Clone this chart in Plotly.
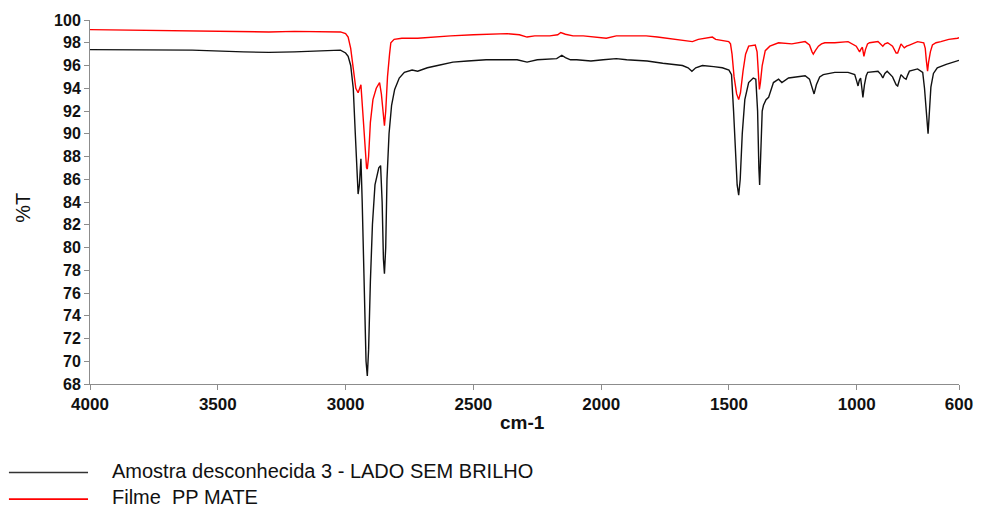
import plotly.graph_objects as go

# FTIR transmittance spectra (%T vs wavenumber, cm-1)
sample_wn = [4000, 3800, 3600, 3400, 3300, 3200, 3100, 3050, 3020, 3000, 2990, 2980, 2970, 2962, 2955,
             2951, 2946, 2940, 2935, 2928, 2920, 2915, 2910, 2903, 2895, 2885, 2870, 2863, 2857, 2852,
             2848, 2843, 2838, 2830, 2820, 2808, 2790, 2770, 2740, 2718, 2680, 2640, 2580, 2523, 2450,
             2380, 2329, 2290, 2250, 2174, 2160, 2154, 2140, 2120, 2096, 2040, 1992, 1941, 1900, 1820,
             1759, 1700, 1682, 1660, 1645, 1630, 1604, 1560, 1526, 1500, 1490, 1482, 1475, 1468, 1462,
             1456, 1448, 1438, 1423, 1405, 1395, 1388, 1383, 1380, 1376, 1370, 1365, 1355, 1345, 1326,
             1306, 1293, 1267, 1230, 1202, 1185, 1175, 1167, 1158, 1145, 1131, 1086, 1034, 1008, 1000,
             995, 990, 985, 980, 976, 970, 963, 957, 917, 905, 898, 890, 881, 860, 846,
             840, 833, 827, 815, 807, 800, 794, 762, 742, 735, 730, 725, 721, 717, 713,
             710, 700, 685, 650, 606, 600]
sample_t = [97.4, 97.35, 97.35, 97.2, 97.15, 97.2, 97.3, 97.35, 97.35, 97.1, 96.8, 96.0, 94.0, 90.0, 86.0,
            84.7, 85.5, 87.8, 84.0, 77.0, 70.0, 68.7, 71.0, 77.0, 82.0, 85.5, 87.0, 87.2, 84.0, 79.0,
            77.7, 80.0, 86.0, 90.0, 92.5, 93.9, 94.9, 95.4, 95.6, 95.5, 95.8, 96.0, 96.3, 96.4, 96.5,
            96.5, 96.5, 96.3, 96.5, 96.6, 96.8, 96.9, 96.7, 96.5, 96.5, 96.4, 96.5, 96.6, 96.5, 96.4,
            96.2, 96.0, 96.0, 95.8, 95.5, 95.8, 96.0, 95.9, 95.8, 95.6, 95.2, 92.0, 88.0, 85.5, 84.6,
            86.0, 90.0, 93.0, 94.5, 94.9, 94.8, 92.0, 87.0, 85.5, 88.0, 92.0, 92.5, 93.0, 93.2, 94.5,
            94.8, 94.5, 94.9, 95.0, 95.1, 94.8, 94.0, 93.5, 94.3, 95.0, 95.2, 95.4, 95.4, 95.2, 94.6,
            94.2, 94.7, 94.9, 94.0, 93.2, 94.3, 95.1, 95.4, 95.5, 95.2, 94.9, 95.3, 95.5, 95.0, 94.3,
            94.2, 94.8, 95.2, 94.9, 94.8, 95.2, 95.5, 95.7, 95.4, 94.0, 92.3, 90.5, 90.0, 91.5, 93.5,
            94.1, 95.3, 95.8, 96.1, 96.4, 96.45]

film_wn = [4000, 3800, 3600, 3400, 3300, 3200, 3100, 3020, 3000, 2990, 2980, 2970, 2960, 2951, 2946,
           2940, 2933, 2925, 2918, 2915, 2910, 2903, 2893, 2880, 2867, 2860, 2853, 2848, 2843, 2836,
           2828, 2823, 2810, 2780, 2718, 2640, 2589, 2500, 2420, 2368, 2320, 2290, 2260, 2201, 2170,
           2158, 2140, 2110, 2070, 2020, 1980, 1941, 1900, 1824, 1780, 1746, 1700, 1660, 1643, 1620,
           1590, 1565, 1552, 1520, 1501, 1494, 1488, 1480, 1470, 1462, 1455, 1445, 1435, 1423, 1397,
           1390, 1385, 1381, 1377, 1370, 1358, 1340, 1306, 1254, 1202, 1185, 1175, 1170, 1162, 1150,
           1138, 1125, 1086, 1034, 1002, 989, 982, 978, 972, 966, 958, 950, 917, 898, 890,
           879, 860, 846, 840, 833, 827, 814, 805, 794, 762, 738, 732, 728, 723, 719,
           712, 704, 690, 671, 640, 606, 600]
film_t = [99.15, 99.1, 99.05, 98.95, 98.95, 99.0, 99.0, 98.95, 98.8, 98.5, 97.5, 95.5, 94.0, 93.6, 93.9,
          94.3, 92.0, 89.0, 87.0, 86.9, 88.0, 91.0, 93.0, 94.0, 94.5, 93.5, 91.5, 90.7, 92.0, 95.0,
          97.0, 98.0, 98.3, 98.4, 98.4, 98.55, 98.6, 98.7, 98.75, 98.8, 98.7, 98.5, 98.6, 98.6, 98.7,
          98.9, 98.75, 98.6, 98.6, 98.5, 98.4, 98.6, 98.6, 98.6, 98.5, 98.4, 98.3, 98.2, 98.1, 98.3,
          98.4, 98.5, 98.3, 98.2, 98.1, 97.9, 97.0, 95.0, 93.5, 93.0, 93.6, 95.5, 97.0, 97.7, 97.8,
          97.2, 95.0, 93.9, 94.5, 96.0, 97.3, 97.7, 98.0, 97.9, 98.1, 97.8, 97.2, 97.0, 97.3, 97.7,
          97.9, 98.0, 98.0, 98.1, 97.7, 97.2, 97.5, 97.6, 96.8, 97.4, 97.9, 98.0, 98.1, 97.7, 97.9,
          98.0, 97.7, 97.1, 97.1, 97.6, 97.9, 97.55, 97.7, 97.8, 98.1, 98.0, 97.5, 96.5, 95.5, 96.3,
          97.2, 97.8, 98.0, 98.1, 98.3, 98.4, 98.45]

series_names = ["Amostra desconhecida 3 - LADO SEM BRILHO", "Filme  PP MATE"]
series_colors = ["#111111", "#ff0000"]
legend_line_colors = ["#333333", "#ff0000"]

x_ticks = [4000, 3500, 3000, 2500, 2000, 1500, 1000, 600]
y_ticks = list(range(68, 101, 2))

FONT = "Liberation Sans, Arial, sans-serif"

fig = go.Figure()
fig.add_trace(go.Scatter(x=sample_wn, y=sample_t, mode="lines", name=series_names[0],
                         line=dict(color=series_colors[0], width=1.4), showlegend=False))
fig.add_trace(go.Scatter(x=film_wn, y=film_t, mode="lines", name=series_names[1],
                         line=dict(color=series_colors[1], width=1.4), showlegend=False))

# plot area in pixels
L, R, T, B = 90, 969, 14, 384
W, H = R - L, B - T


def px_x(p):
    return (p - L) / W


def px_y(p):
    return (B - p) / H


fig.update_layout(
    width=985, height=514,
    margin=dict(l=L, r=985 - R, t=T, b=514 - B),
    paper_bgcolor="white", plot_bgcolor="white",
    font=dict(family=FONT, color="#111111"),
    xaxis=dict(range=[4000, 600], tickvals=x_ticks, ticktext=[str(v) for v in x_ticks],
               showgrid=False, zeroline=False, showline=True, linecolor="#8c8c8c", linewidth=1,
               ticks="outside", ticklen=5, tickcolor="#8c8c8c",
               tickfont=dict(size=17, family=FONT, weight="bold", color="#111111")),
    yaxis=dict(range=[68, 100], tickvals=y_ticks,
               showgrid=False, zeroline=False, showline=True, linecolor="#8c8c8c", linewidth=1,
               ticks="outside", ticklen=5, tickcolor="#8c8c8c",
               tickfont=dict(size=16, family=FONT, weight="bold", color="#111111")),
)

annotations = [
    dict(text="%T", x=px_x(22), y=px_y(205), xref="paper", yref="paper", textangle=-90,
         showarrow=False, font=dict(size=20, family=FONT, color="#111111"),
         xanchor="center", yanchor="middle"),
    dict(text="cm-1", x=px_x(527), y=px_y(423), xref="paper", yref="paper",
         showarrow=False, font=dict(size=19, family=FONT, weight="bold", color="#111111"),
         xanchor="center", yanchor="middle"),
]
shapes = []
legend_rows = [474, 501]
for name, color, row in zip(series_names, legend_line_colors, legend_rows):
    shapes.append(dict(type="line", xref="paper", yref="paper",
                       x0=px_x(8), x1=px_x(88), y0=px_y(row), y1=px_y(row),
                       line=dict(color=color, width=1.6)))
    annotations.append(dict(text=name, x=px_x(110), y=px_y(row - 2), xref="paper", yref="paper",
                            showarrow=False, xanchor="left", yanchor="middle",
                            font=dict(size=20, family=FONT, color="#111111")))

fig.update_layout(annotations=annotations, shapes=shapes)

fig.write_html("out.html")
